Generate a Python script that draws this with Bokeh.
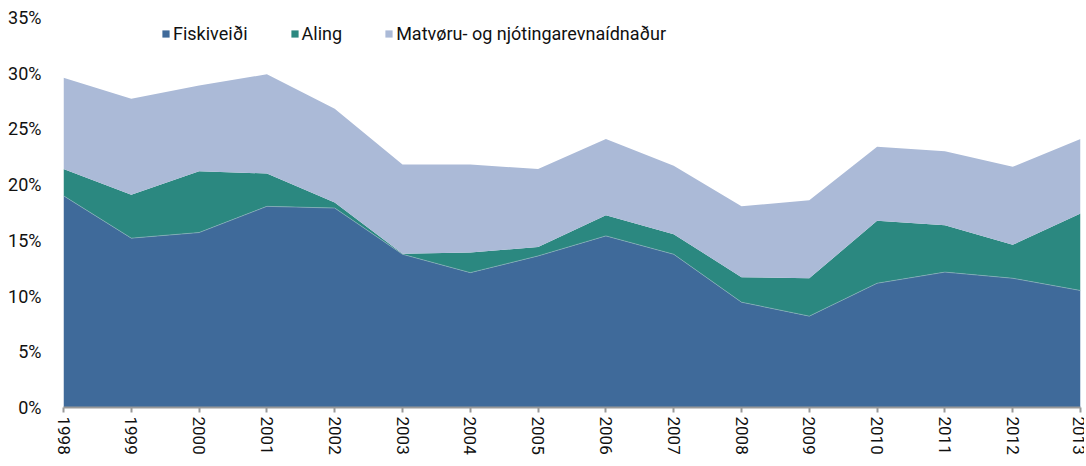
from bokeh.plotting import figure
from bokeh.models import ColumnDataSource, FixedTicker, PrintfTickFormatter, Legend, Range1d
from bokeh.embed import file_html
from bokeh.resources import INLINE

years = list(range(1998, 2014))
fiskiveidi = [19.0, 15.2, 15.7, 18.05, 17.9, 13.75, 12.1, 13.6, 15.4, 13.75, 9.45, 8.2, 11.15, 12.15, 11.6, 10.5]
aling = [2.4, 3.9, 5.5, 2.95, 0.5, 0.05, 1.8, 0.8, 1.85, 1.8, 2.25, 3.4, 5.6, 4.2, 3.0, 6.9]
matvoru = [8.2, 8.6, 7.7, 8.9, 8.4, 8.0, 7.9, 7.0, 6.85, 6.15, 6.35, 7.0, 6.65, 6.65, 7.0, 6.7]
series_names = ["Fiskiveiði", "Aling", "Matvøru- og njótingarevnaídnaður"]
colors = ["#3f6a9a", "#2b8880", "#abbad7"]
y_ticks = [0, 5, 10, 15, 20, 25, 30, 35]

src = ColumnDataSource(dict(year=years, fisk=fiskiveidi, aling=aling, matv=matvoru))

FONT = "Roboto"

p = figure(width=1084, height=464, output_backend="svg", toolbar_location=None,
           x_range=Range1d(1998, 2013), y_range=Range1d(0, 35),
           min_border_left=63, min_border_right=4, min_border_top=17, min_border_bottom=57)
p.outline_line_color = None
p.grid.grid_line_color = None

renderers = p.varea_stack(["fisk", "aling", "matv"], x="year", color=colors, source=src)
p.line(x="year", y="fisk", source=src, line_color="#8fb3bd", line_width=0.8, line_alpha=0.8)

legend = Legend(items=[(n, [r]) for n, r in zip(series_names, renderers)],
                orientation="horizontal", location=(98, 363))
legend.label_text_font = FONT
legend.label_text_font_size = "18px"
legend.label_text_color = "#111111"
legend.glyph_width = 9
legend.glyph_height = 9
legend.label_standoff = 3
legend.spacing = 42
legend.padding = 0
legend.margin = 0
legend.border_line_color = None
legend.background_fill_alpha = 0
p.add_layout(legend, "center")

p.yaxis.ticker = FixedTicker(ticks=y_ticks)
p.yaxis.formatter = PrintfTickFormatter(format="%d%%")
p.yaxis.axis_line_color = None
p.yaxis.major_tick_line_color = None
p.yaxis.minor_tick_line_color = None
p.yaxis.major_label_text_font = FONT
p.yaxis.major_label_text_font_size = "18px"
p.yaxis.major_label_text_color = "#111111"
p.yaxis.major_label_standoff = 16

p.xaxis.ticker = FixedTicker(ticks=years)
p.xaxis.major_label_orientation = "vertical"
p.xaxis.axis_line_color = "#999999"
p.xaxis.axis_line_width = 2
p.xaxis.major_tick_line_color = "#999999"
p.xaxis.major_tick_line_width = 2
p.xaxis.major_tick_in = 0
p.xaxis.major_tick_out = 5
p.xaxis.minor_tick_line_color = None
p.xaxis.major_label_text_font = FONT
p.xaxis.major_label_text_font_size = "17px"
p.xaxis.major_label_text_color = "#111111"
p.xaxis.major_label_standoff = 4

open("out.html", "w").write(file_html(p, INLINE))
